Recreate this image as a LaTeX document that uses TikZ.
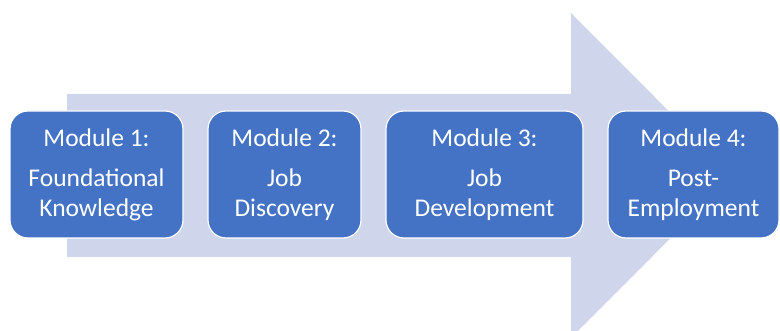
\documentclass[tikz,border=0pt]{standalone}
\usepackage{fontspec}
\setmainfont{Carlito}
\usetikzlibrary{shapes}
\definecolor{modblue}{HTML}{4472C4}
\definecolor{flowgray}{HTML}{CFD5EA}
\tikzstyle{module}=[rectangle,rounded corners=18pt,draw=white,line width=1.2pt,fill=modblue,text=white,align=center,inner sep=0pt,minimum height=127pt,font=\fontsize{25.5}{30}\selectfont]
\tikzstyle{flow}=[fill=flowgray,draw=none]

\begin{document}
\begin{tikzpicture}[x=1pt,y=-1pt]
      \clip (0,0) rectangle (780,331);
      % big arrow behind the modules
      \fill[flow] (67,94) -- (571,94) -- (571,13) -- (733,175.5) -- (571,338) -- (571,257) -- (67,257) -- cycle;
      \node[module,minimum width=173pt] at (96.5,174.5) (m1) {Module 1:\\[10pt]Foundational\\Knowledge};
      \node[module,minimum width=153pt] at (284.5,174.5) (m2) {Module 2:\\[10pt]Job\\Discovery};
      \node[module,minimum width=197pt] at (484.5,174.5) (m3) {Module 3:\\[10pt]Job\\Development};
      \node[module,minimum width=171pt] at (693.5,174.5) (m4) {Module 4:\\[10pt]Post-\\Employment};
    \end{tikzpicture}
\end{document}
